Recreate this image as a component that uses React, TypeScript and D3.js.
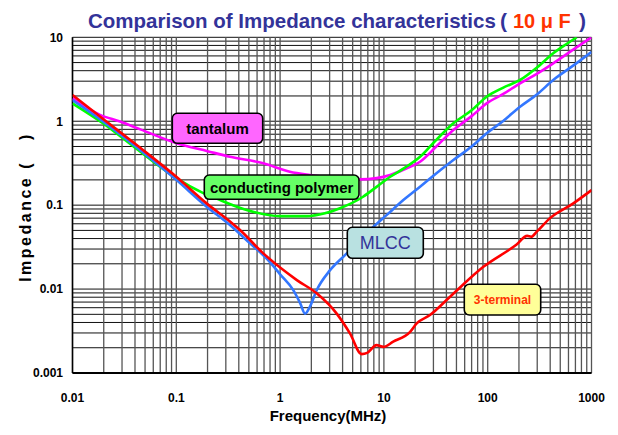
import React from "react";
import * as d3 from "d3";

// ---- Data (frequency in MHz, impedance in ohm) ----
const xTickValues = [0.01, 0.1, 1, 10, 100, 1000];
const xTickLabels = ["0.01", "0.1", "1", "10", "100", "1000"];
const yTickValues = [0.001, 0.01, 0.1, 1, 10];
const yTickLabels = ["0.001", "0.01", "0.1", "1", "10"];

const tantalumF = [0.01, 0.0184, 0.0287, 0.045, 0.101, 0.2, 0.329, 0.689, 1.24, 1.94, 3.5, 5.9, 8.5, 11.5, 16, 22.3, 32, 46.7, 70, 97.7, 140, 205, 300, 428, 650, 1000];
const tantalumZ = [1.87, 1.19, 0.99, 0.8, 0.546, 0.44, 0.377, 0.315, 0.25, 0.229, 0.212, 0.203, 0.21, 0.229, 0.27, 0.329, 0.5, 0.785, 1.15, 1.63, 2.1, 2.83, 3.7, 4.9, 7.0, 10.0];

const polymerF = [0.01, 0.0198, 0.035, 0.06, 0.101, 0.18, 0.264, 0.476, 1.0, 1.8, 2.7, 3.78, 6.3, 8.5, 11.5, 16, 22.3, 32, 46.7, 70, 97.7, 140, 205, 300, 428, 600, 720];
const polymerZ = [1.63, 0.94, 0.55, 0.33, 0.209, 0.14, 0.115, 0.0875, 0.074, 0.074, 0.08, 0.092, 0.126, 0.165, 0.218, 0.28, 0.377, 0.6, 0.944, 1.35, 1.96, 2.5, 3.1, 4.4, 6.44, 8.6, 10.0];

const mlccF = [0.01, 0.02, 0.0415, 0.1, 0.196, 0.329, 0.513, 0.743, 1.0, 1.34, 1.56, 1.74, 1.94, 2.25, 3.03, 4.39, 6.0, 7.9, 10.6, 15.4, 22.3, 27.8, 46.7, 70, 97.7, 140, 205, 300, 428, 650, 1000];
const mlccZ = [1.79, 0.98, 0.49, 0.2, 0.096, 0.058, 0.035, 0.023, 0.015, 0.0097, 0.0068, 0.0051, 0.0062, 0.0097, 0.0168, 0.0266, 0.04, 0.055, 0.076, 0.115, 0.166, 0.208, 0.345, 0.5, 0.718, 1.0, 1.49, 2.1, 3.1, 4.5, 6.7];

const terminalF = [0.01, 0.02, 0.0415, 0.1, 0.196, 0.329, 0.411, 0.689, 1.45, 2.25, 3.51, 4.71, 6.1, 6.9, 8.5, 9.9, 12.3, 17.9, 20.7, 27.8, 43.4, 90.8, 190, 240, 262, 300, 398, 668, 1000];
const terminalZ = [2.05, 1.05, 0.52, 0.218, 0.105, 0.064, 0.0505, 0.0266, 0.0128, 0.0089, 0.0051, 0.00296, 0.00168, 0.00174, 0.00215, 0.00205, 0.00236, 0.0031, 0.0039, 0.0049, 0.0081, 0.0184, 0.034, 0.043, 0.042, 0.049, 0.07, 0.105, 0.151];

const FONT = "'Liberation Sans', Arial, Helvetica, sans-serif";

export default function App() {
  const W = 618, H = 435;
  const left = 72.5, right = 591.5, top = 37.3, bottom = 373;
  const x = d3.scaleLog().domain([0.01, 1000]).range([left, right]);
  const y = d3.scaleLog().domain([0.001, 10]).range([bottom, top]);

  const vGrid: number[] = [];
  for (let k = -2; k <= 2; k++) for (let m = 1; m <= 9; m++) vGrid.push(m * Math.pow(10, k));
  vGrid.push(1000);
  const hGrid: number[] = [];
  for (let k = -3; k <= 0; k++) for (let m = 1; m <= 9; m++) hGrid.push(m * Math.pow(10, k));
  hGrid.push(10);

  const line = d3
    .line<[number, number]>()
    .x((d) => x(d[0]))
    .y((d) => y(d[1]))
    .curve(d3.curveMonotoneX);

  const series = [
    { f: tantalumF, z: tantalumZ, color: "#ff00ff" },
    { f: polymerF, z: polymerZ, color: "#00ff00" },
    { f: mlccF, z: mlccZ, color: "#3377ff" },
    { f: terminalF, z: terminalZ, color: "#ff0000" },
  ];

  const labels = [
    { text: "tantalum", x0: 172.3, y0: 113.3, x1: 262.7, y1: 143.3, fill: "#ff66ff", color: "#000", weight: "bold", size: 15 },
    { text: "conducting polymer", x0: 204.3, y0: 175, x1: 359, y1: 199.3, fill: "#66ff66", color: "#000", weight: "bold", size: 15 },
    { text: "MLCC", x0: 347.3, y0: 227.3, x1: 423.3, y1: 258.3, fill: "#b9e1e1", color: "#333399", weight: "normal", size: 18 },
    { text: "3-terminal", x0: 464.3, y0: 284.3, x1: 540.7, y1: 315, fill: "#ffff99", color: "#ff3300", weight: "bold", size: 12 },
  ];

  return (
    <svg width={W} height={H} style={{ position: "absolute", left: 0, top: 0, background: "#fff" }} fontFamily={FONT}>
      <defs>
        <clipPath id="plotClip">
          <rect x={left} y={top} width={right - left} height={bottom - top} />
        </clipPath>
      </defs>
      <rect x={0} y={0} width={W} height={H} fill="#fff" />
      {/* Title */}
      <g fontWeight="bold">
        <text x={88} y={28} fontSize={20.5} fill="#333399">
          Comparison of Impedance characteristics
        </text>
        <text x={500} y={28} fontSize={21} fill="#333399">(</text>
        <text x={513} y={28} fontSize={20} fill="#ff3300">10 μ F</text>
        <text x={579} y={28} fontSize={21} fill="#333399">)</text>
      </g>
      {/* Grid */}
      {hGrid.map((v, i) => (
        <line key={"h" + i} x1={left} x2={right} y1={y(v)} y2={y(v)} stroke="#111" strokeWidth={1} />
      ))}
      {vGrid.map((v, i) => (
        <line key={"v" + i} x1={x(v)} x2={x(v)} y1={top} y2={bottom} stroke="#555" strokeWidth={1.3} />
      ))}
      <line x1={left} x2={right} y1={bottom} y2={bottom} stroke="#000" strokeWidth={2} />
      <line x1={left} x2={left} y1={top} y2={bottom} stroke="#000" strokeWidth={1.5} />
      {/* Curves */}
      <g clipPath="url(#plotClip)">
        {series.map((s, i) => (
          <path
            key={i}
            d={line(s.f.map((f, j) => [f, s.z[j]] as [number, number])) || ""}
            fill="none"
            stroke={s.color}
            strokeWidth={2.6}
            strokeLinejoin="round"
          />
        ))}
      </g>
      {/* Labels */}
      {labels.map((l, i) => (
        <g key={"l" + i}>
          <rect x={l.x0} y={l.y0} width={l.x1 - l.x0} height={l.y1 - l.y0} rx={5} fill={l.fill} stroke="#000" strokeWidth={1.6} />
          <text
            x={(l.x0 + l.x1) / 2}
            y={(l.y0 + l.y1) / 2}
            dy="0.36em"
            textAnchor="middle"
            fontSize={l.size}
            fontWeight={l.weight}
            fill={l.color}
          >
            {l.text}
          </text>
        </g>
      ))}
      {/* Axis tick labels */}
      {xTickValues.map((v, i) => (
        <text key={"xt" + i} x={x(v)} y={402} textAnchor="middle" fontSize={12} fontWeight="bold" fill="#000">
          {xTickLabels[i]}
        </text>
      ))}
      {yTickValues.map((v, i) => (
        <text key={"yt" + i} x={63} y={y(v)} dy="0.36em" textAnchor="end" fontSize={12} fontWeight="bold" fill="#000">
          {yTickLabels[i]}
        </text>
      ))}
      {/* Axis titles */}
      <text x={328} y={421} textAnchor="middle" fontSize={15} fontWeight="bold" fill="#000">
        Frequency(MHz)
      </text>
      <text
        transform={`translate(31, 207) rotate(-90)`}
        textAnchor="middle"
        fontSize={16}
        fontWeight="bold"
        letterSpacing={2.5}
        fill="#000"
      >
        {"Impedance (\u2002\u2002)"}
      </text>
    </svg>
  );
}
